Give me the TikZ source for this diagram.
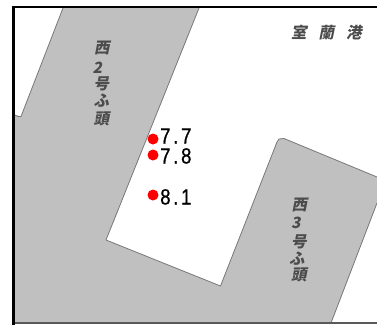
\documentclass[tikz,border=0pt]{standalone}
\usepackage{fontspec}
\setmainfont{Liberation Sans}
\newfontfamily\cjk{Noto Sans CJK JP}
\newfontfamily\numf[FakeStretch=0.85,LetterSpace=12,FakeBold=0.6]{Liberation Sans}
\definecolor{quay}{RGB}{192,192,192}
\definecolor{quayedge}{RGB}{120,120,120}
\tikzset{
  x=1pt,y=-1pt,
  cjklabel/.style={inner sep=0,font=\cjk\bfseries\fontsize{15.5}{16}\selectfont,text=black!70,xslant=0.2,transform shape},
  depth/.style={inner sep=0,font=\numf\fontsize{22}{22}\selectfont},
  pointmark/.style={circle,fill=red,inner sep=0,minimum size=11pt}
}
\begin{document}
\begin{tikzpicture}
\useasboundingbox (0,0) rectangle (377,325);
\fill[white] (0,0) rectangle (377,325);
\fill[quay] (63,8) -- (21,116.5) -- (13,114) -- (13,323) -- (331,323) -- (377,203) -- (377,177) -- (284,138.5) -- (279,139) -- (277,142) -- (220.5,286) -- (106,240) -- (199,8) -- cycle;
\draw[quayedge,line width=0.8pt,line join=round] (63,8) -- (21,116.5) -- (18,116.5) -- (13,114.5);
\draw[quayedge,line width=0.8pt,line join=round] (199,8) -- (106,240) -- (220.5,286) -- (277,142) -- (279,139) -- (284,138.5) -- (377,177);
\draw[quayedge,line width=0.8pt] (377,203) -- (331,323);
\draw[black!65,line width=1.6pt] (12,323.2) -- (377,323.2);
\draw[black,line width=2.2pt] (13.5,325) -- (13.5,7) -- (377,7);
\node[cjklabel] (a1) at (103,47.5) {西};
\node[cjklabel] (a2) at (98.5,67.5) {2};
\node[cjklabel] (a3) at (102.5,84) {号};
\node[cjklabel] (a4) at (102.5,101) {ふ};
\node[cjklabel] (a5) at (102.5,118.5) {頭};
\node[cjklabel] (b1) at (300,32.5) {室};
\node[cjklabel] (b2) at (327.5,32.5) {蘭};
\node[cjklabel] (b3) at (355,32.5) {港};
\node[cjklabel] (c1) at (300.5,204.5) {西};
\node[cjklabel] (c2) at (297,222.5) {3};
\node[cjklabel] (c3) at (300,241.5) {号};
\node[cjklabel] (c4) at (298,258.5) {ふ};
\node[cjklabel] (c5) at (300,274.5) {頭};
\node[pointmark] (p1) at (153,139) {};
\node[pointmark] (p2) at (153,155) {};
\node[pointmark] (p3) at (153,195) {};
\node[depth,anchor=base west] (t1) at (160,143.5) {7.7};
\node[depth,anchor=base west] (t2) at (160,163.5) {7.8};
\node[depth,anchor=base west] (t3) at (160,204.5) {8.1};
\end{tikzpicture}
\end{document}
